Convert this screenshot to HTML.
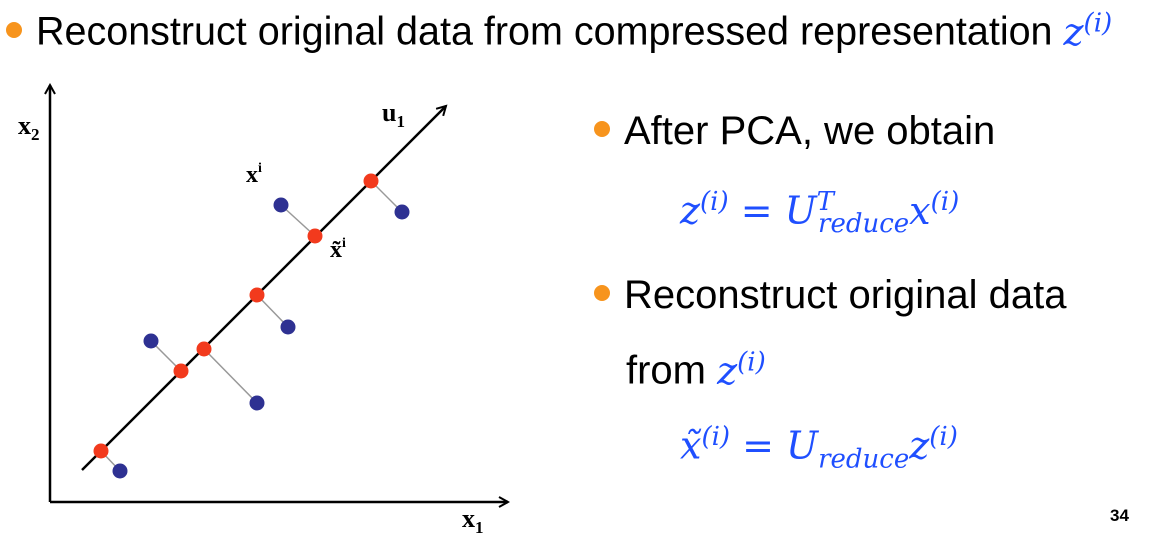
<!DOCTYPE html>
<html><head><meta charset="utf-8"><style>
body{margin:0;width:1151px;height:541px;background:#fff;position:relative;overflow:hidden;font-family:"Liberation Sans",sans-serif;}
.t{position:absolute;white-space:nowrap;color:#000;}
.dot{display:inline-block;width:16px;height:16px;border-radius:50%;background:#f7941d;vertical-align:middle;}
.m{font-family:"DejaVu Serif",serif;font-style:italic;color:#1f4fff;}
</style></head><body>
<div class="t" style="left:6px;top:8px;font-size:39.5px;"><span class="dot" style="position:relative;top:-4px;margin-right:14px"></span>Reconstruct original data from compressed representation <span class="m" style="font-size:38px">z<sup style="font-size:26px">(i)</sup></span></div>
<div class="t" style="left:594px;top:109px;font-size:40px;"><span class="dot" style="position:relative;top:-4px;margin-right:14px"></span>After PCA, we obtain</div>
<div class="t m" style="left:680px;top:187px;font-size:38px;">z<sup style="font-size:26px">(i)</sup> = U<sup style="font-size:26px">T</sup><sub style="font-size:26px;position:relative;left:-16px">reduce</sub><span style="margin-left:-16px">x</span><sup style="font-size:26px">(i)</sup></div>
<div class="t" style="left:594px;top:273px;font-size:40px;"><span class="dot" style="position:relative;top:-4px;margin-right:14px"></span>Reconstruct original data</div>
<div class="t" style="left:626px;top:347px;font-size:40px;">from <span class="m" style="font-size:38px">z<sup style="font-size:26px">(i)</sup></span></div>
<div class="t m" style="left:680px;top:422px;font-size:38px;">x̃<sup style="font-size:26px">(i)</sup> = U<sub style="font-size:26px">reduce</sub>z<sup style="font-size:26px">(i)</sup></div>
<div class="t" style="left:1110px;top:506px;font-size:17px;font-weight:bold;">34</div>
<svg id="chart" width="540" height="541" style="position:absolute;left:0;top:0">
<defs><marker id="ar" markerWidth="12" markerHeight="12" refX="10" refY="6" orient="auto" markerUnits="userSpaceOnUse"><path d="M1,1 L10,6 L1,11" fill="none" stroke="#000" stroke-width="2"/></marker></defs>
<g id="marks"></g>
<line x1="50" y1="502" x2="508" y2="502" stroke="#000" stroke-width="2.5" marker-end="url(#ar)"/>
<line x1="50" y1="502" x2="50" y2="85" stroke="#000" stroke-width="2.5" marker-end="url(#ar)"/>
<text x="462" y="527" font-family="Liberation Serif" font-size="26" font-weight="bold">x<tspan font-size="17" dy="6">1</tspan></text>
<text x="18" y="134" font-family="Liberation Serif" font-size="26" font-weight="bold">x<tspan font-size="17" dy="6">2</tspan></text>
<text x="382" y="121" font-family="Liberation Serif" font-size="26" font-weight="bold">u<tspan font-size="17" dy="6">1</tspan></text>
<text x="246" y="182" font-family="Liberation Serif" font-size="24" font-weight="bold">x<tspan font-size="14" dy="-10">i</tspan></text>
<text x="330" y="257" font-family="Liberation Serif" font-size="24" font-weight="bold">x̃<tspan font-size="14" dy="-10">i</tspan></text>
</svg>
<script>
const redX=[12.75,32.75,38.5,51.75,66.25,80.25];
const redY=[12.75,32.75,38.25,51.75,66.5,80.25];
const blueX=[17.5,25.25,51.75,59.5,57.75,88];
const blueY=[7.75,40.25,24.75,43.75,74.25,72.5];
const lineX=[8,99];
const lineY=[8,99];
function sx(v){return 50+v*4;}
function sy(v){return 502-v*4;}
const g=document.getElementById('marks');
const NS='http://www.w3.org/2000/svg';
for(let i=0;i<redX.length;i++){
  const l=document.createElementNS(NS,'line');
  l.setAttribute('x1',sx(redX[i]));l.setAttribute('y1',sy(redY[i]));
  l.setAttribute('x2',sx(blueX[i]));l.setAttribute('y2',sy(blueY[i]));
  l.setAttribute('stroke','#999');l.setAttribute('stroke-width','1.5');
  
  
  g.appendChild(l);
}
const pl=document.createElementNS(NS,'line');
pl.setAttribute('x1',sx(lineX[0]));pl.setAttribute('y1',sy(lineY[0]));
pl.setAttribute('x2',sx(lineX[1]));pl.setAttribute('y2',sy(lineY[1]));
pl.setAttribute('stroke','#000');pl.setAttribute('stroke-width','2.5');
pl.setAttribute('marker-end','url(#ar)');


g.appendChild(pl);
for(let i=0;i<blueX.length;i++){
  const c=document.createElementNS(NS,'circle');
  c.setAttribute('cx',sx(blueX[i]));c.setAttribute('cy',sy(blueY[i]));c.setAttribute('r','7.5');
  c.setAttribute('fill','#2e3192');
  
  
  g.appendChild(c);
}
for(let i=0;i<redX.length;i++){
  const c=document.createElementNS(NS,'circle');
  c.setAttribute('cx',sx(redX[i]));c.setAttribute('cy',sy(redY[i]));c.setAttribute('r','7.5');
  c.setAttribute('fill','#f23a1d');
  
  
  g.appendChild(c);
}
</script>
</body></html>
